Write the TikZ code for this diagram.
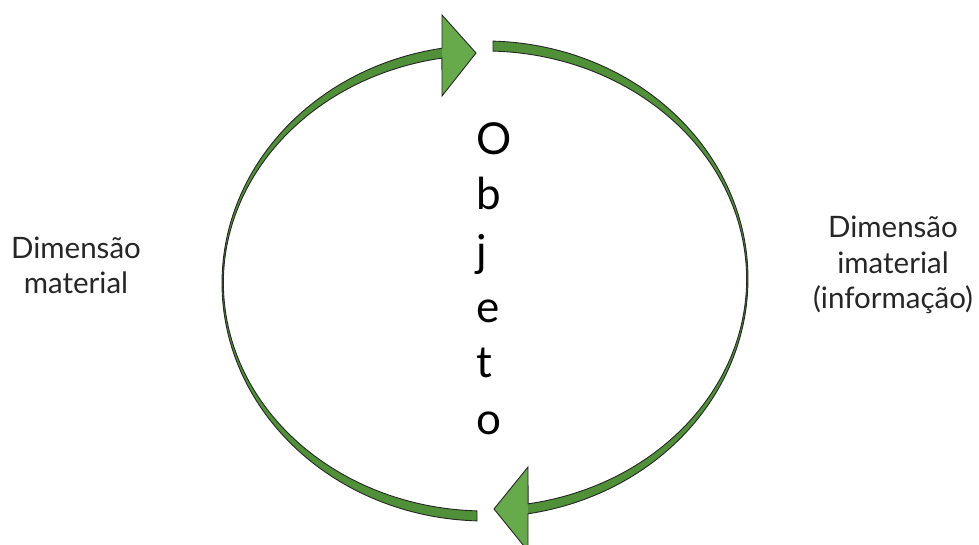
\documentclass[tikz,border=0pt]{standalone}
\usepackage{fontspec}
\setmainfont{Lato}
\usetikzlibrary{calc}
\definecolor{shaftgreen}{RGB}{80,144,56}
\definecolor{headgreen}{RGB}{102,170,76}
\definecolor{edgegray}{RGB}{38,38,38}
\begin{document}
\begin{tikzpicture}[x=1pt,y=1pt,
  shaft/.style={fill=shaftgreen},
  head/.style={fill=headgreen},
  rim/.style={draw=edgegray,line width=0.9pt,line join=miter},
  letter/.style={anchor=base west,inner sep=0pt,font=\fontsize{44}{56}\selectfont},
  sidetext/.style={align=center,inner sep=0pt,font=\fontsize{29.5}{35.5}\selectfont,text=black!85}]
\useasboundingbox (0,0) rectangle (979,545);
\clip (0,0) rectangle (979,545);
\coordinate (cL) at (485,262);
\coordinate (cR) at (485,266);
% left band
\fill[shaft] ($(cL)+(268.26:263pt and 238pt)$) arc[start angle=268.26,end angle=99.41,x radius=263pt,y radius=238pt]
  -- ($(cL)+(99.48:261.6pt and 228pt)$) arc[start angle=99.48,end angle=268.24,x radius=261.6pt,y radius=228pt] -- cycle;
\fill[head] (442,530) -- (476,492) -- (442,449) -- cycle;
\draw[rim] ($(cL)+(268.26:263pt and 238pt)$) arc[start angle=268.26,end angle=99.41,x radius=263pt,y radius=238pt]
  -- (442,530) -- (476,492) -- (442,449)
  -- ($(cL)+(99.48:261.6pt and 228pt)$) arc[start angle=99.48,end angle=268.24,x radius=261.6pt,y radius=228pt] -- cycle;
% right band
\fill[shaft] ($(cR)+(88.26:263pt and 238pt)$) arc[start angle=88.26,end angle=-80.59,x radius=263pt,y radius=238pt]
  -- ($(cR)+(-80.52:261.6pt and 228pt)$) arc[start angle=-80.52,end angle=88.24,x radius=261.6pt,y radius=228pt] -- cycle;
\fill[head] (528,-6) -- (494,36) -- (528,78) -- cycle;
\draw[rim] ($(cR)+(88.26:263pt and 238pt)$) arc[start angle=88.26,end angle=-80.59,x radius=263pt,y radius=238pt]
  -- (528,-6) -- (494,36) -- (528,78)
  -- ($(cR)+(-80.52:261.6pt and 228pt)$) arc[start angle=-80.52,end angle=88.24,x radius=261.6pt,y radius=228pt] -- cycle;
% vertical word
\node[letter] (l1) at (476,390) {O};
\node[letter] (l2) at (476,335) {b};
\node[letter] (l3) at (476,278) {j};
\node[letter] (l4) at (476,222) {e};
\node[letter] (l5) at (476,167) {t};
\node[letter] (l6) at (476,110) {o};
% side texts
\node[sidetext] (mat) at (76,279.5) {Dimensão\\material};
\node[sidetext] (imat) at (893,280) {Dimensão\\imaterial\\(informação)};
\end{tikzpicture}
\end{document}
